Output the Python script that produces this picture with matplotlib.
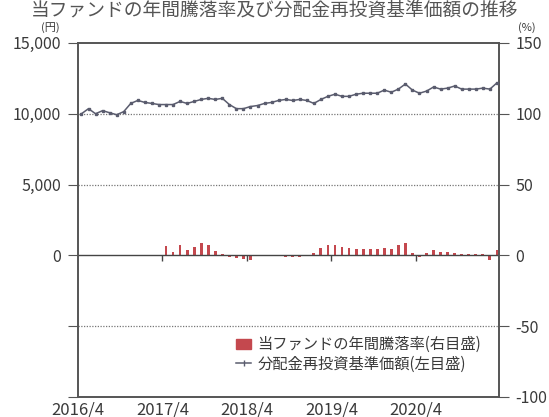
import matplotlib
matplotlib.use("Agg")
import matplotlib.pyplot as plt
from matplotlib.patches import Patch
from matplotlib.lines import Line2D
from matplotlib.ticker import FuncFormatter
import numpy as np

plt.rcParams['font.family'] = ['Noto Sans CJK JP', 'DejaVu Sans']
plt.rcParams['axes.unicode_minus'] = False

# 分配金再投資基準価額 (円) 2016/4 から月次
nav = [10000, 10360, 10000, 10220, 10070, 9930, 10150, 10730, 10940, 10800,
       10730, 10650, 10650, 10650, 10870, 10730, 10870, 11010, 11090, 11010,
       11090, 10650, 10360, 10360, 10510, 10580, 10730, 10800, 10940, 11010,
       10940, 11010, 10940, 10730, 11010, 11230, 11380, 11230, 11230, 11380,
       11450, 11450, 11450, 11670, 11520, 11740, 12100, 11670, 11450, 11600,
       11890, 11740, 11810, 11960, 11740, 11740, 11740, 11810, 11740, 12180]

# 年間騰落率 (%) 2017/4 から月次
ret = [6.3, 2.5, 7.5, 4, 6, 9, 7.5, 3, 1, -0.8,
       -2, -2.5, -3, 0.3, 0.2, -0.3, 0.3, -0.8, -1.5, -0.8,
       0.5, 2, 5, 7.5, 7.5, 6, 5, 4.5, 4.5, 4.5,
       4.5, 5, 4.5, 7, 9, 2, -1.5, 2, 4, 2.5,
       2.5, 2, 1, 0.8, 0.8, 0.8, -3, 4]

year_labels = ['2016/4', '2017/4', '2018/4', '2019/4', '2020/4']

x_nav = np.arange(len(nav)) + 0.5
x_ret = np.arange(len(nav) - len(ret), len(nav)) + 0.5
year_pos = np.arange(len(year_labels)) * 12

fig = plt.figure(figsize=(5.49, 4.17), dpi=100)
ax = fig.add_axes([0.142, 0.048, 0.767, 0.849])
ax2 = ax.twinx()

txt = '#3a3a3a'
spine_c = '#555555'
bar_c = '#c4484e'
line_c = '#5a5c6e'

# 棒グラフ (右目盛)
ax2.bar(x_ret, ret, width=0.4, color=bar_c, zorder=3)
ax2.set_ylim(-100, 150)
ax2.set_yticks([-100, -50, 0, 50, 100, 150])
ax2.tick_params(axis='y', direction='out', length=7, colors=spine_c,
                labelcolor=txt, labelsize=11.5, pad=5)

# 折れ線 (左目盛)
ax.plot(x_nav, nav, color=line_c, lw=1.1, marker='s', ms=1.8, zorder=4)
ax.set_ylim(-10000, 15000)
ax.set_yticks([-10000, -5000, 0, 5000, 10000, 15000])
ax.yaxis.set_major_formatter(FuncFormatter(
    lambda v, p: '' if v < 0 else f'{int(v):,}'))
ax.tick_params(axis='y', direction='out', length=7, colors=spine_c,
               labelcolor=txt, labelsize=11.5, pad=5)
ax.set_xlim(0, 59.8)
ax.set_xticks(year_pos)
ax.set_xticklabels(year_labels)
ax.tick_params(axis='x', length=0, labelcolor=txt, labelsize=12, pad=3)

for y in [-5000, 5000, 10000]:
    ax.axhline(y, color='#777777', lw=0.9, ls=(0, (1, 1.2)), zorder=1)
ax.axhline(0, color='#444444', lw=1.0, zorder=2)
ax.vlines(year_pos[1:], -400, 0, color='#444444', lw=1.0, zorder=2)

ax.set_zorder(ax2.get_zorder() + 1)
ax.patch.set_visible(False)

for a in (ax, ax2):
    for s in a.spines.values():
        s.set_color(spine_c)
        s.set_linewidth(1.2)

fig.text(0.091, 1 - 28 / 417, '(円)', fontsize=8, color=txt,
         ha='center', va='center')
fig.text(0.96, 1 - 28 / 417, '(%)', fontsize=8, color=txt,
         ha='center', va='center')
fig.text(0.5, 1 - 10 / 417, '当ファンドの年間騰落率及び分配金再投資基準価額の推移',
         fontsize=13.5, color='#555555', ha='center', va='center')

handles = [Patch(color=bar_c),
           Line2D([], [], color=line_c, lw=1.1, marker='|', ms=5)]
ax.legend(handles, ['当ファンドの年間騰落率(右目盛)', '分配金再投資基準価額(左目盛)'],
          loc='lower right', bbox_to_anchor=(0.99, 0.03), frameon=False,
          fontsize=11, handlelength=1.0, handletextpad=0.4, labelspacing=0.15,
          labelcolor=txt)

fig.savefig('out.png', dpi=100)
